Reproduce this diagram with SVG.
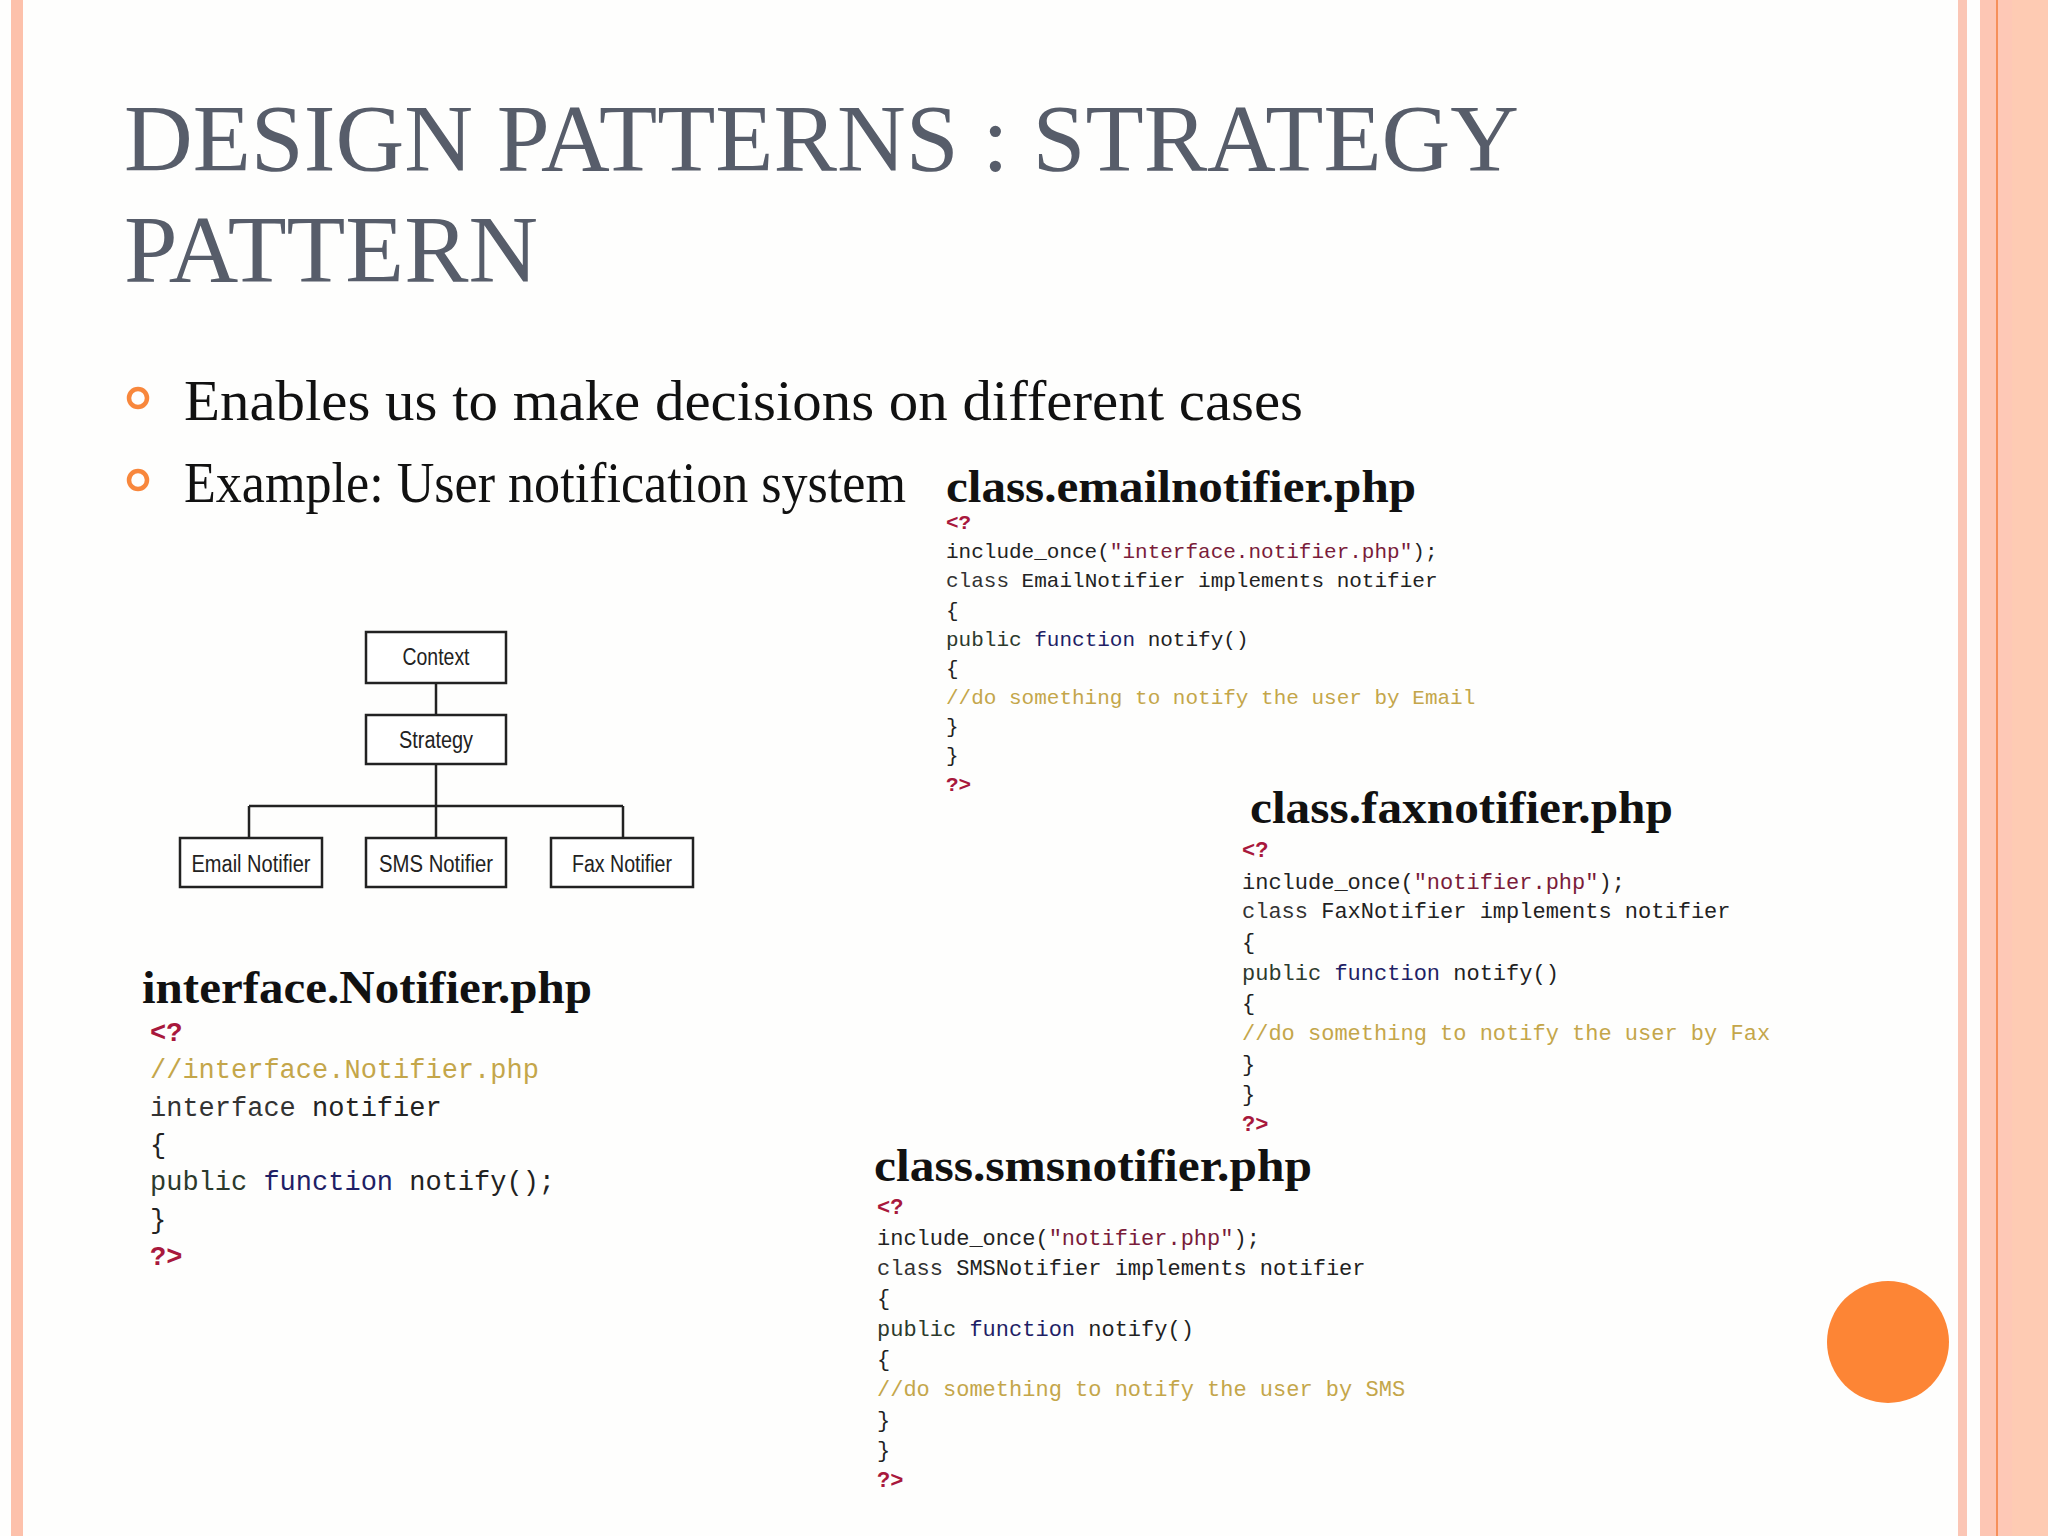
<svg xmlns="http://www.w3.org/2000/svg" width="2048" height="1536" viewBox="0 0 2048 1536">
<style>
.title{font-family:"Liberation Serif","Times New Roman",serif;font-size:95px;fill:#575d6a}
.body{font-family:"Liberation Serif","Times New Roman",serif;font-size:56px;fill:#111}
.hdr{font-family:"Liberation Serif","Times New Roman",serif;font-size:46px;font-weight:bold;fill:#111}
.code{font-family:"Liberation Mono","Courier New",monospace;fill:#222}
.c21{font-size:21px}.c22{font-size:22px}.c27{font-size:27px}
.tag{fill:#a8183c;font-weight:bold}
.str{fill:#7a1c3a}
.kw{fill:#333}
.pub{fill:#2c3a2c}
.fn{fill:#1f1f66}
.cm{fill:#c4a64a}
.box{fill:#fff;stroke:#222;stroke-width:2.5}
.lbl{font-family:"Liberation Sans",Arial,sans-serif;font-size:23px;fill:#222;text-anchor:middle}
.wire{stroke:#222;stroke-width:2.5;fill:none}
.bullet{fill:none;stroke:#f8873c;stroke-width:4.5}
</style>
<rect x="0" y="0" width="2048" height="1536" fill="#fefefd"/>
<rect x="11" y="0" width="12" height="1536" fill="#fdc1ab"/>
<rect x="1958" y="0" width="9" height="1536" fill="#fbc6b5"/>
<rect x="1980" y="0" width="16" height="1536" fill="#fdc6b4"/>
<rect x="1996" y="0" width="2" height="1536" fill="#f6905a"/>
<rect x="1998" y="0" width="14" height="1536" fill="#fec8b6"/>
<rect x="2012" y="0" width="36" height="1536" fill="#fecbb3"/>
<circle cx="1888" cy="1342" r="61" fill="#fd8535"/>

<g id="title">
<text class="title" x="124" y="171" textLength="1395" lengthAdjust="spacingAndGlyphs">DESIGN PATTERNS : STRATEGY</text>
<text class="title" x="124" y="282" textLength="414" lengthAdjust="spacingAndGlyphs">PATTERN</text>
</g>
<g id="bullets">
<circle class="bullet" cx="138" cy="398" r="9"/>
<text class="body" x="184" y="420" textLength="1119" lengthAdjust="spacingAndGlyphs">Enables us to make decisions on different cases</text>
<circle class="bullet" cx="138" cy="480" r="9"/>
<text class="body" x="184" y="502" textLength="722" lengthAdjust="spacingAndGlyphs">Example: User notification system</text>
</g>

<g id="connectors">
<line class="wire" x1="436" y1="683" x2="436" y2="715"/>
<line class="wire" x1="436" y1="764" x2="436" y2="838"/>
<line class="wire" x1="249" y1="806" x2="623" y2="806"/>
<line class="wire" x1="249" y1="806" x2="249" y2="838"/>
<line class="wire" x1="623" y1="806" x2="623" y2="838"/>
</g>
<g id="node-context">
<rect class="box" x="366" y="632" width="140" height="51"/>
<text class="lbl" x="436" y="665" textLength="67" lengthAdjust="spacingAndGlyphs">Context</text>
</g>
<g id="node-strategy">
<rect class="box" x="366" y="715" width="140" height="49"/>
<text class="lbl" x="436" y="748" textLength="74" lengthAdjust="spacingAndGlyphs">Strategy</text>
</g>
<g id="node-email">
<rect class="box" x="180" y="838" width="142" height="49"/>
<text class="lbl" x="251" y="872" textLength="119" lengthAdjust="spacingAndGlyphs">Email Notifier</text>
</g>
<g id="node-sms">
<rect class="box" x="366" y="838" width="140" height="49"/>
<text class="lbl" x="436" y="872" textLength="114" lengthAdjust="spacingAndGlyphs">SMS Notifier</text>
</g>
<g id="node-fax">
<rect class="box" x="551" y="838" width="142" height="49"/>
<text class="lbl" x="622" y="872" textLength="100" lengthAdjust="spacingAndGlyphs">Fax Notifier</text>
</g>

<g id="code-email">
<text class="hdr" x="946" y="502" textLength="470" lengthAdjust="spacingAndGlyphs">class.emailnotifier.php</text>
<g class="code c21">
<text x="946" y="529"><tspan class="tag">&lt;?</tspan></text>
<text x="946" y="558">include_once(<tspan class="str">"interface.notifier.php"</tspan>);</text>
<text x="946" y="587"><tspan class="kw">class</tspan> EmailNotifier implements notifier</text>
<text x="946" y="617">{</text>
<text x="946" y="646"><tspan class="pub">public</tspan> <tspan class="fn">function</tspan> notify()</text>
<text x="946" y="675">{</text>
<text x="946" y="704" class="cm">//do something to notify the user by Email</text>
<text x="946" y="733">}</text>
<text x="946" y="762">}</text>
<text x="946" y="791"><tspan class="tag">?&gt;</tspan></text>
</g>
</g>

<g id="code-fax">
<text class="hdr" x="1250" y="823" textLength="423" lengthAdjust="spacingAndGlyphs">class.faxnotifier.php</text>
<g class="code c22">
<text x="1242" y="857"><tspan class="tag">&lt;?</tspan></text>
<text x="1242" y="889">include_once(<tspan class="str">"notifier.php"</tspan>);</text>
<text x="1242" y="918"><tspan class="kw">class</tspan> FaxNotifier implements notifier</text>
<text x="1242" y="949">{</text>
<text x="1242" y="980"><tspan class="pub">public</tspan> <tspan class="fn">function</tspan> notify()</text>
<text x="1242" y="1010">{</text>
<text x="1242" y="1040" class="cm">//do something to notify the user by Fax</text>
<text x="1242" y="1071">}</text>
<text x="1242" y="1101">}</text>
<text x="1242" y="1131"><tspan class="tag">?&gt;</tspan></text>
</g>
</g>

<g id="code-interface">
<text class="hdr" x="142" y="1003" textLength="450" lengthAdjust="spacingAndGlyphs">interface.Notifier.php</text>
<g class="code c27">
<text x="150" y="1041"><tspan class="tag">&lt;?</tspan></text>
<text x="150" y="1078" class="cm">//interface.Notifier.php</text>
<text x="150" y="1116"><tspan class="kw">interface</tspan> notifier</text>
<text x="150" y="1153">{</text>
<text x="150" y="1190"><tspan class="pub">public</tspan> <tspan class="fn">function</tspan> notify();</text>
<text x="150" y="1228">}</text>
<text x="150" y="1265"><tspan class="tag">?&gt;</tspan></text>
</g>
</g>

<g id="code-sms">
<text class="hdr" x="874" y="1181" textLength="438" lengthAdjust="spacingAndGlyphs">class.smsnotifier.php</text>
<g class="code c22">
<text x="877" y="1214"><tspan class="tag">&lt;?</tspan></text>
<text x="877" y="1245">include_once(<tspan class="str">"notifier.php"</tspan>);</text>
<text x="877" y="1275"><tspan class="kw">class</tspan> SMSNotifier implements notifier</text>
<text x="877" y="1305">{</text>
<text x="877" y="1336"><tspan class="pub">public</tspan> <tspan class="fn">function</tspan> notify()</text>
<text x="877" y="1366">{</text>
<text x="877" y="1396" class="cm">//do something to notify the user by SMS</text>
<text x="877" y="1427">}</text>
<text x="877" y="1457">}</text>
<text x="877" y="1487"><tspan class="tag">?&gt;</tspan></text>
</g>
</g>
</svg>
